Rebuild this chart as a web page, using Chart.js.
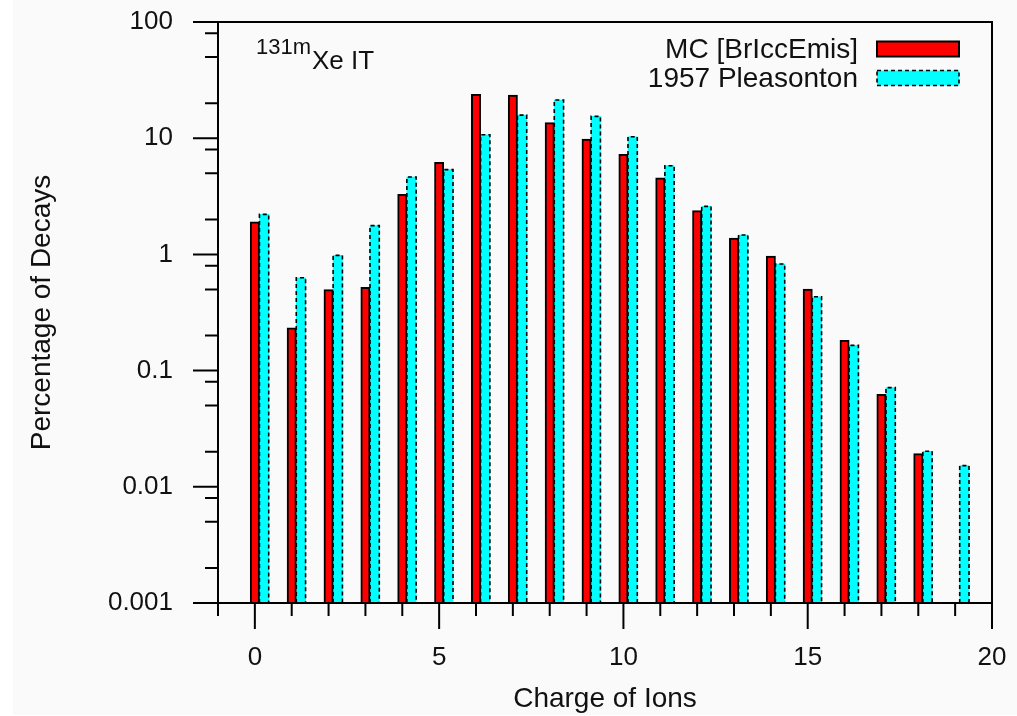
<!DOCTYPE html>
<html>
<head>
<meta charset="utf-8">
<title>131mXe IT charge distribution</title>
<script src="https://cdn.jsdelivr.net/npm/chart.js@4"></script>
<style>
  html, body { margin: 0; padding: 0; background: #ffffff; }
  canvas { display: block; }
</style>
</head>
<body>
<canvas id="ions" width="1017" height="716"></canvas>
<script>
// charge state of the ions and the share of decays (%) per charge
var charges = [0, 1, 2, 3, 4, 5, 6, 7, 8, 9, 10, 11, 12, 13, 14, 15, 16, 17, 18, 19];
var mcBrIccEmis = [1.91, 0.233, 0.497, 0.52, 3.29, 6.2, 23.9, 23.5, 13.6, 9.85,
                   7.27, 4.57, 2.38, 1.38, 0.968, 0.503, 0.182, 0.0625, 0.0193, null];
var pleasonton1957 = [2.21, 0.63, 0.98, 1.77, 4.63, 5.36, 10.7, 15.8, 21.3, 15.4,
                      10.3, 5.8, 2.59, 1.47, 0.826, 0.432, 0.165, 0.0713, 0.0202, 0.0152];

// axis ticks
var decadeTicks = [0.001, 0.01, 0.1, 1, 10, 100];
var minorSteps = [2, 5, 8];
var xMajorEvery = 5;

var FONT = "'Liberation Sans', Arial, Helvetica, sans-serif";
var INK = "#111111";
var pairShift = 0.25; // second bar sits right next to the first one

Chart.defaults.font.family = FONT;
Chart.defaults.color = INK;

var yTickValues = [];
decadeTicks.forEach(function (d, i) {
    yTickValues.push(d);
    if (i < decadeTicks.length - 1) {
        minorSteps.forEach(function (m) { yTickValues.push(+(d * m).toPrecision(3)); });
    }
});

// page background with the thin white strip on the left
var paper = {
    id: "paper",
    beforeDraw: function (chart) {
        var ctx = chart.ctx;
        ctx.save();
        ctx.fillStyle = "#ffffff";
        ctx.fillRect(0, 0, chart.width, chart.height);
        ctx.fillStyle = "#fafafa";
        ctx.fillRect(13, 0, chart.width - 13, chart.height - 1);
        ctx.restore();
    }
};

// Chart.js bars have no dashed border, so outline the second series by hand
var dashedBars = {
    id: "dashedBars",
    afterDatasetsDraw: function (chart) {
        var ctx = chart.ctx, area = chart.chartArea;
        var meta = chart.getDatasetMeta(1);
        ctx.save();
        ctx.beginPath();
        ctx.rect(area.left, area.top, area.right - area.left, area.bottom - area.top);
        ctx.clip();
        ctx.strokeStyle = "#000";
        ctx.lineWidth = 1.6;
        ctx.setLineDash([4, 3]);
        meta.data.forEach(function (bar) {
            var p = bar.getProps(["x", "y", "base", "width"], true);
            if (p.y == null || isNaN(p.y)) return;
            var l = p.x - p.width / 2, r = p.x + p.width / 2;
            ctx.beginPath();
            ctx.moveTo(l, p.base);
            ctx.lineTo(l, p.y);
            ctx.lineTo(r, p.y);
            ctx.lineTo(r, p.base);
            ctx.stroke();
        });
        ctx.restore();
    }
};

// frame, outward tick marks, legend and the nuclide label
var decorations = {
    id: "decorations",
    afterDraw: function (chart) {
        var ctx = chart.ctx, a = chart.chartArea;
        var xs = chart.scales.x, ys = chart.scales.y;
        ctx.save();
        ctx.strokeStyle = "#000";
        ctx.lineWidth = 2;
        ctx.strokeRect(a.left, a.top, a.right - a.left, a.bottom - a.top);

        ctx.beginPath();
        ys.ticks.forEach(function (t) {
            var py = ys.getPixelForValue(t.value);
            var len = decadeTicks.indexOf(t.value) >= 0 ? 25 : 13;
            ctx.moveTo(a.left - len, py);
            ctx.lineTo(a.left, py);
        });
        xs.ticks.forEach(function (t) {
            var px = xs.getPixelForValue(t.value);
            var len = t.value % xMajorEvery === 0 ? 26 : 13;
            ctx.moveTo(px, a.bottom);
            ctx.lineTo(px, a.bottom + len);
        });
        ctx.stroke();

        // legend, text right aligned with the sample box after it
        var sets = chart.data.datasets;
        var boxL = 877, boxW = 82, boxH = 15;
        var rows = [49, 78];
        ctx.font = "28px " + FONT;
        ctx.textAlign = "right";
        ctx.textBaseline = "alphabetic";
        sets.forEach(function (ds, i) {
            var cy = rows[i];
            ctx.fillStyle = INK;
            ctx.fillText(ds.label, 858, cy + 9);
            ctx.fillStyle = ds.backgroundColor;
            ctx.fillRect(boxL, cy - boxH / 2, boxW, boxH);
            ctx.setLineDash(i === 1 ? [4, 3] : []);
            ctx.lineWidth = i === 1 ? 1.6 : 2;
            ctx.strokeRect(boxL, cy - boxH / 2, boxW, boxH);
        });
        ctx.setLineDash([]);

        // 131mXe IT
        ctx.textAlign = "left";
        ctx.fillStyle = INK;
        ctx.font = "22px " + FONT;
        ctx.fillText("131m", 256, 54);
        var supW = ctx.measureText("131m").width;
        ctx.font = "26px " + FONT;
        ctx.fillText("Xe IT", 256 + supW + 1, 69);
        ctx.restore();
    }
};

var toPoints = function (values, shift) {
    return charges.map(function (q, i) { return { x: q + shift, y: values[i] }; });
};

// fixed axis sizes so the plot box lands where it should
var fixX = function (scale) {
    scale.height = 113;
    scale.paddingLeft = 0;
    scale.paddingRight = 0;
    scale.paddingTop = 0;
    scale.paddingBottom = 0;
};
var fixY = function (scale) {
    scale.width = 218;
    scale.paddingLeft = 0;
    scale.paddingRight = 0;
    scale.paddingTop = 0;
    scale.paddingBottom = 0;
};

new Chart(document.getElementById("ions"), {
    type: "bar",
    data: {
        datasets: [{
            label: "MC [BrIccEmis]",
            data: toPoints(mcBrIccEmis, 0),
            backgroundColor: "#ff0000",
            borderColor: "#000000",
            borderWidth: 2,
            borderSkipped: "bottom"
        }, {
            label: "1957 Pleasonton",
            data: toPoints(pleasonton1957, pairShift),
            backgroundColor: "#00ffff",
            borderWidth: 0
        }]
    },
    options: {
        responsive: false,
        animation: false,
        events: [],
        grouped: false,
        barThickness: 9.3,
        layout: { padding: { left: 0, top: 22, right: 25, bottom: 0 } },
        plugins: {
            legend: { display: false },
            tooltip: { enabled: false }
        },
        scales: {
            x: {
                type: "linear",
                min: -1,
                max: 20,
                offset: false,
                grid: { display: false, drawTicks: false },
                border: { display: false },
                ticks: {
                    stepSize: 1,
                    autoSkip: false,
                    maxRotation: 0,
                    padding: 39,
                    color: INK,
                    font: { size: 26 },
                    callback: function (v) { return v % xMajorEvery === 0 ? String(v) : ""; }
                },
                title: {
                    display: true,
                    text: "Charge of Ions",
                    color: INK,
                    font: { size: 28 },
                    padding: { top: 0, bottom: 0 }
                },
                afterFit: fixX
            },
            y: {
                type: "logarithmic",
                min: 0.001,
                max: 100,
                grid: { display: false, drawTicks: false },
                border: { display: false },
                afterBuildTicks: function (scale) {
                    scale.ticks = yTickValues.map(function (v) { return { value: v }; });
                },
                ticks: {
                    autoSkip: false,
                    padding: 45,
                    color: INK,
                    font: { size: 26 },
                    callback: function (v) { return decadeTicks.indexOf(v) >= 0 ? String(v) : ""; }
                },
                title: {
                    display: true,
                    text: "Percentage of Decays",
                    color: INK,
                    font: { size: 28 },
                    padding: { top: 25, bottom: 0 }
                },
                afterFit: fixY
            }
        }
    },
    plugins: [paper, dashedBars, decorations]
});
</script>
</body>
</html>
